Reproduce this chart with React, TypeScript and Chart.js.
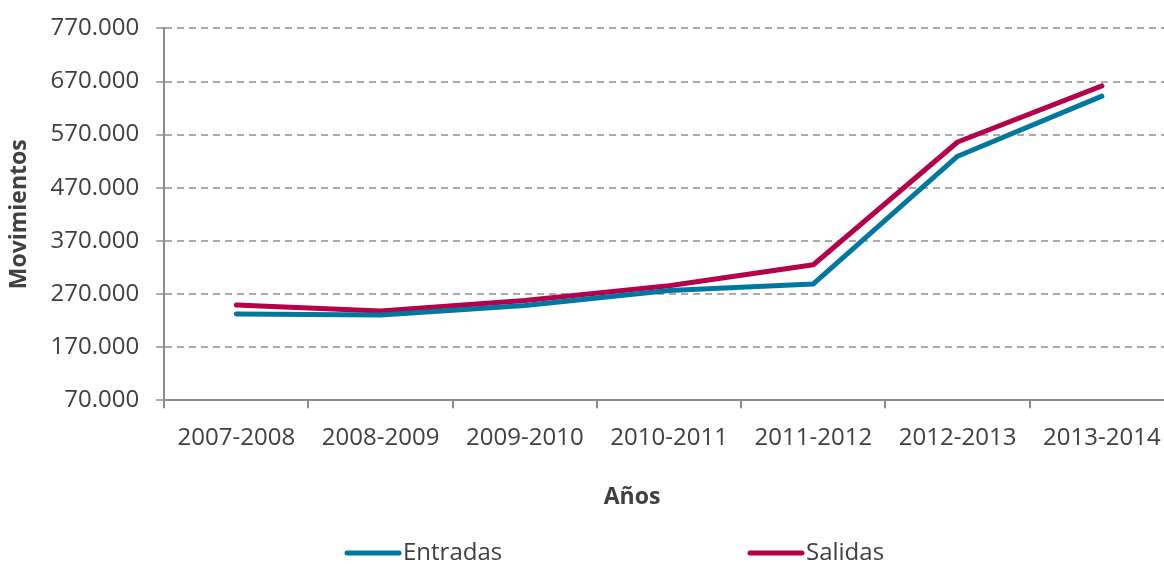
import React, { useEffect, useRef } from "react";
import { Chart, registerables } from "chart.js";

Chart.register(...registerables);

const categories = ["2007-2008", "2008-2009", "2009-2010", "2010-2011", "2011-2012", "2012-2013", "2013-2014"];
const entradas = [232500, 230500, 248500, 276500, 288800, 529300, 642400];
const salidas = [249400, 238100, 257500, 285500, 325000, 556100, 661900];
const seriesNames = ["Entradas", "Salidas"];
const seriesColors = ["#0077A0", "#B5004B"];
const yTitle = "Movimientos";
const xTitle = "Años";

const FONT = "'Open Sans', sans-serif";
const TEXT = "#404040";

const fmt = (v: number) => {
  const s = Math.round(v).toString();
  return s.replace(/\B(?=(\d{3})+(?!\d))/g, ".");
};

const extrasPlugin = {
  id: "extras",
  afterDraw(chart: any) {
    const ctx = chart.ctx;
    ctx.save();
    ctx.fillStyle = TEXT;
    ctx.font = `bold 23px ${FONT}`;
    ctx.textAlign = "center";
    ctx.textBaseline = "middle";
    ctx.fillText(xTitle, 632, 497);
    const items = [
      { x: 345, ds: 0 },
      { x: 748, ds: 1 },
    ];
    const y = 553;
    items.forEach((it) => {
      const ds = chart.data.datasets[it.ds];
      ctx.strokeStyle = ds.borderColor;
      ctx.lineWidth = 5;
      ctx.lineCap = "round";
      ctx.beginPath();
      ctx.moveTo(it.x + 2, y);
      ctx.lineTo(it.x + 54, y);
      ctx.stroke();
      ctx.fillStyle = TEXT;
      ctx.font = `24px ${FONT}`;
      ctx.textAlign = "left";
      ctx.textBaseline = "middle";
      ctx.fillText(ds.label, it.x + 58, y);
    });
    ctx.restore();
  },
};

export default function App() {
  const ref = useRef<HTMLCanvasElement>(null);
  useEffect(() => {
    if (!ref.current) return;
    const chart = new Chart(ref.current, {
      type: "line",
      data: {
        labels: categories,
        datasets: [
          {
            label: seriesNames[0],
            data: entradas,
            borderColor: seriesColors[0],
            backgroundColor: seriesColors[0],
            borderWidth: 5,
            pointRadius: 0,
            tension: 0,
            borderCapStyle: "round",
            borderJoinStyle: "round",
          },
          {
            label: seriesNames[1],
            data: salidas,
            borderColor: seriesColors[1],
            backgroundColor: seriesColors[1],
            borderWidth: 5,
            pointRadius: 0,
            tension: 0,
            borderCapStyle: "round",
            borderJoinStyle: "round",
          },
        ],
      },
      options: {
        animation: false,
        responsive: false,
        maintainAspectRatio: false,
        layout: { padding: { left: 6, right: 16, top: 20, bottom: 95 } },
        plugins: {
          legend: { display: false },
          tooltip: { enabled: false },
        },
        scales: {
          x: {
            offset: true,
            grid: {
              offset: true,
              drawOnChartArea: false,
              drawTicks: true,
              tickLength: 8,
              color: "#8c8c8c",
              lineWidth: 2,
            },
            border: { display: true, color: "#8c8c8c", width: 2 },
            ticks: {
              color: TEXT,
              font: { family: FONT, size: 24 },
              padding: 16,
              maxRotation: 0,
              autoSkip: false,
            },
          },
          y: {
            min: 70000,
            max: 770000,
            grid: {
              color: "#aaaaaa",
              lineWidth: 2,
              tickLength: 8,
              tickColor: "#aaaaaa",
              tickBorderDash: [],
            },
            border: { display: true, color: "#8c8c8c", width: 2, dash: [7, 5] },
            ticks: {
              stepSize: 100000,
              color: TEXT,
              font: { family: FONT, size: 24, lineHeight: 0.95 },
              padding: 17,
              callback: (v: any) => fmt(Number(v)),
            },
            title: {
              display: true,
              text: yTitle,
              color: TEXT,
              font: { family: FONT, size: 23, weight: "bold" },
              padding: { top: 0, bottom: 0 },
            },
          },
        },
      },
      plugins: [extrasPlugin],
    });
    return () => chart.destroy();
  }, []);
  return (
    <div style={{ position: "fixed", left: 0, top: 0, width: 1164, height: 564, overflow: "hidden", background: "#fff" }}>
      <canvas ref={ref} width={1190} height={564} style={{ width: 1190, height: 564, display: "block" }} />
    </div>
  );
}
